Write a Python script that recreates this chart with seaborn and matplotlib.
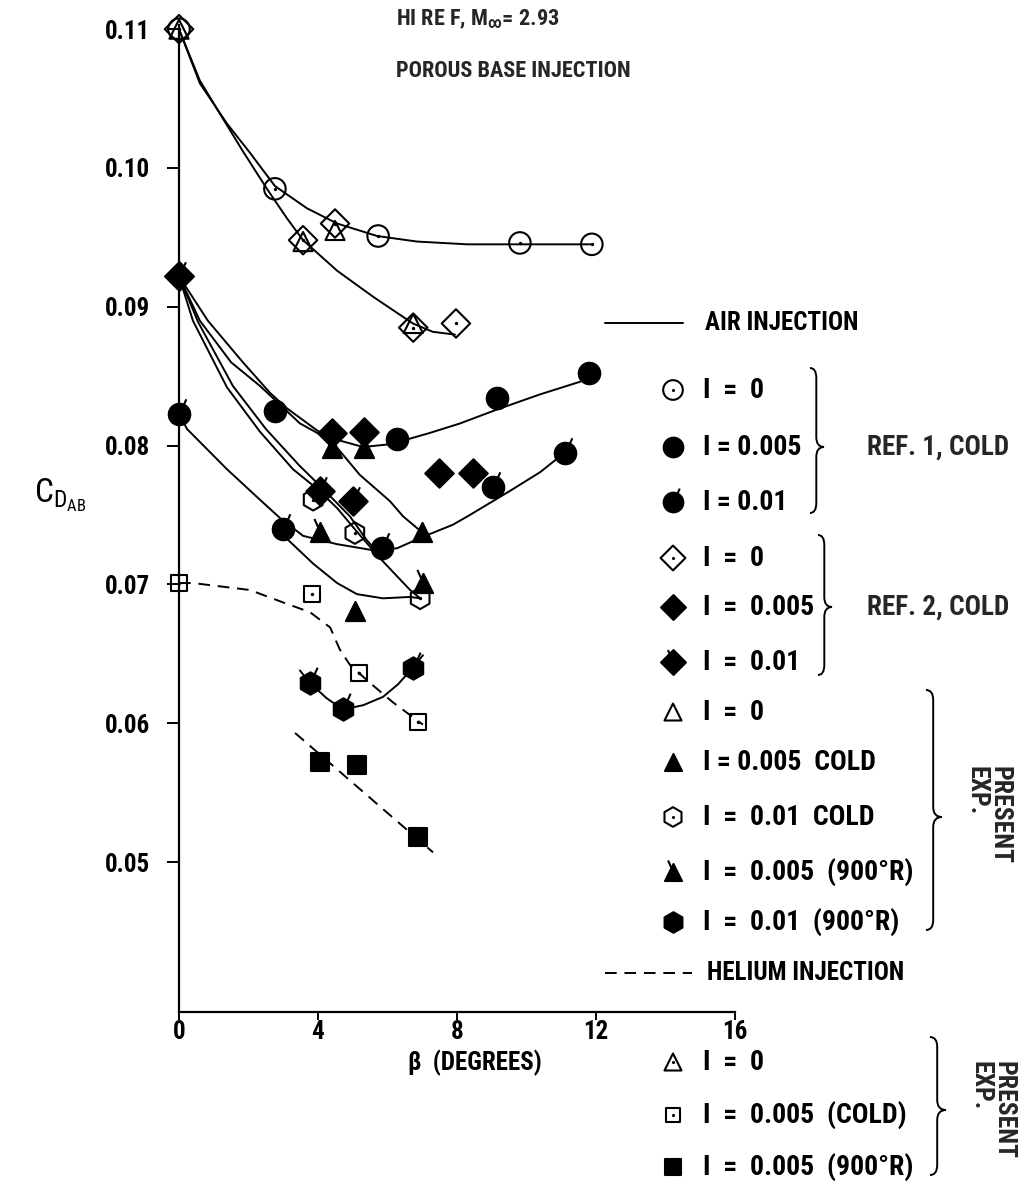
import matplotlib
matplotlib.use("Agg")
import matplotlib.pyplot as plt
import seaborn as sns
from matplotlib.path import Path
from matplotlib.patches import PathPatch

# Base drag coefficient vs boattail angle, HI RE F, M = 2.93, porous base injection
# values: beta in degrees, C_D_AB

# ---- measured points ----
ref1_i0_beta = [0.0, 2.76, 5.73, 9.81, 11.88]
ref1_i0_cd = [0.1100, 0.0985, 0.0951, 0.0946, 0.0945]
ref1_i005_beta = [2.76, 6.27, 9.15, 11.8]
ref1_i005_cd = [0.0825, 0.0805, 0.0834, 0.0852]
ref1_i01_beta = [0.0, 3.0, 5.84, 9.04, 11.1]
ref1_i01_cd = [0.0823, 0.0740, 0.0726, 0.0770, 0.0795]

ref2_i0_beta = [0.0, 3.57, 4.49, 6.74, 7.97]
ref2_i0_cd = [0.1100, 0.0948, 0.0960, 0.0885, 0.0888]
ref2_i005_beta = [0.0, 4.4, 5.32, 7.48, 8.46]
ref2_i005_cd = [0.0922, 0.0809, 0.0810, 0.0780, 0.0780]
ref2_i01_beta = [0.0, 4.06, 5.0]
ref2_i01_cd = [0.0922, 0.0767, 0.0760]

pres_i0_beta = [0.0, 3.57, 4.49, 6.74]
pres_i0_cd = [0.1100, 0.0947, 0.0955, 0.0888]
pres_i005c_beta = [4.4, 5.32, 6.99, 5.06]
pres_i005c_cd = [0.0798, 0.0798, 0.0738, 0.0681]
pres_i01c_beta = [3.86, 5.06, 6.94]
pres_i01c_cd = [0.0761, 0.0737, 0.0690]
pres_i005h_beta = [4.06, 7.02]
pres_i005h_cd = [0.0738, 0.0701]
pres_i01h_beta = [3.77, 4.72, 6.73]
pres_i01h_cd = [0.0629, 0.0610, 0.0640]

he_i005c_beta = [0.0, 3.83, 5.18, 6.88]
he_i005c_cd = [0.0701, 0.0693, 0.0636, 0.0601]
he_i005h_beta = [4.06, 5.12, 6.88]
he_i005h_cd = [0.0572, 0.0570, 0.0518]

# ---- faired curves (air = solid, helium = dashed) ----
air_curves = [
    ([0, 0.6, 1.38, 2.04, 2.76, 3.68, 4.55, 5.7, 6.85, 8.3, 9.8, 11.88],
     [0.1100, 0.1061, 0.1032, 0.1011, 0.0987, 0.0971, 0.0960, 0.0951, 0.0947, 0.0945, 0.0945, 0.0945]),
    ([0, 0.6, 1.18, 1.84, 2.53, 3.1, 3.57, 4.55, 5.6, 6.73, 7.3, 7.94],
     [0.1100, 0.1063, 0.1039, 0.1012, 0.0985, 0.0964, 0.0948, 0.0926, 0.0907, 0.0888, 0.0882, 0.0880]),
    ([0, 0.83, 1.84, 2.62, 3.1, 3.97, 4.43, 5.3, 6.07, 6.36, 7.2, 8.09, 9.15, 10.4, 11.54, 11.8],
     [0.0922, 0.0890, 0.0860, 0.0838, 0.0827, 0.0811, 0.0805, 0.0799, 0.0801, 0.0803, 0.0809, 0.0816, 0.0826, 0.0837, 0.0846, 0.0850]),
    ([0, 0.6, 1.5, 2.33, 3.48, 4.06, 4.4, 5.2, 6.07, 6.45, 6.88, 7.0],
     [0.0922, 0.0890, 0.0860, 0.0843, 0.0816, 0.0808, 0.0803, 0.0779, 0.0760, 0.0749, 0.0740, 0.0738]),
    ([0, 0.4, 1.38, 2.33, 3.28, 3.97, 4.55, 5.12, 5.78, 6.65, 6.94],
     [0.0922, 0.0890, 0.0842, 0.0810, 0.0783, 0.0769, 0.0755, 0.0738, 0.0719, 0.0696, 0.0690]),
    ([0, 0.55, 1.55, 2.5, 3.45, 4.1, 4.92, 5.4, 5.9],
     [0.0922, 0.0889, 0.0843, 0.0812, 0.0786, 0.0770, 0.0749, 0.0732, 0.0718]),
    ([0, 0.23, 1.38, 2.33, 2.9, 3.57, 4.55, 5.5, 6.27, 6.99, 7.88, 8.3, 9.5, 10.4, 11.1],
     [0.0823, 0.0812, 0.0783, 0.0761, 0.0748, 0.0735, 0.0729, 0.0725, 0.0726, 0.0734, 0.0743, 0.0749, 0.0767, 0.0781, 0.0795]),
    ([3.0, 3.1, 3.86, 4.55, 5.12, 5.87, 6.65, 6.94],
     [0.0740, 0.0733, 0.0715, 0.0701, 0.0693, 0.0690, 0.0691, 0.0690]),
    ([3.48, 3.77, 4.25, 4.72, 5.3, 5.87, 6.3, 6.73, 7.02],
     [0.0638, 0.0629, 0.0618, 0.0610, 0.0613, 0.0619, 0.0628, 0.0640, 0.0649]),
]
helium_curves = [
    ([0, 0.4, 2.04, 3.0, 3.77, 4.35, 4.63, 4.92, 5.5, 6.16, 7.02],
     [0.0701, 0.0701, 0.0696, 0.0687, 0.0680, 0.0669, 0.0653, 0.0642, 0.0629, 0.0615, 0.0599]),
    ([3.34, 7.31], [0.0593, 0.0507]),
]

x_ticks = [0, 4, 8, 12, 16]
y_ticks = [0.05, 0.06, 0.07, 0.08, 0.09, 0.10, 0.11]
y_tick_labels = ['0.05', '0.06', '0.07', '0.08', '0.09', '0.10', '0.11']

sns.set_theme(style="white")
FONTS = ['Roboto Condensed', 'Liberation Sans Narrow', 'DejaVu Sans Condensed', 'Roboto', 'Liberation Sans']
plt.rcParams['font.family'] = FONTS
plt.rcParams['font.stretch'] = 'condensed'
plt.rcParams['font.weight'] = 'bold'

W, H = 1021, 1183
fig = plt.figure(figsize=(W / 100, H / 100), dpi=100)
fig.patch.set_facecolor('white')
ax = fig.add_axes([179 / W, 1 - 1012 / H, 556 / W, (1012 - 25) / H])
ax.set_facecolor('white')

FLAG_R = Path([(0, 0), (0.45, 1.0)], [Path.MOVETO, Path.LINETO])
FLAG_L = Path([(0, 0), (-0.45, 1.0)], [Path.MOVETO, Path.LINETO])
LW = 1.5

# curves first
for bx, cy in air_curves:
    sns.lineplot(x=bx, y=cy, sort=False, estimator=None, color='black', lw=1.4, ax=ax)
for bx, cy in helium_curves:
    sns.lineplot(x=bx, y=cy, sort=False, estimator=None, color='black', lw=1.4,
                 linestyle=(0, (6, 4)), ax=ax)


def draw_points(bx, cy, marker, s, filled=True, dot=False, flag=None):
    sns.scatterplot(x=bx, y=cy, marker=marker, s=s, color='black', edgecolor='black',
                    linewidth=LW, clip_on=False, zorder=4, legend=False, ax=ax)
    if not filled:
        ax.collections[-1].set_facecolor('none')
    if dot:
        sns.scatterplot(x=bx, y=cy, marker='o', s=6, color='black', linewidth=0,
                        clip_on=False, zorder=5, legend=False, ax=ax)
    if flag is not None:
        sns.scatterplot(x=bx, y=cy, marker=flag, s=s * 2.0, color='black', edgecolor='black',
                        linewidth=LW, clip_on=False, zorder=5, legend=False, ax=ax)


draw_points(ref1_i0_beta, ref1_i0_cd, 'o', 240, filled=False, dot=True)
draw_points(ref1_i005_beta, ref1_i005_cd, 'o', 240)
draw_points(ref1_i01_beta, ref1_i01_cd, 'o', 240, flag=FLAG_R)
draw_points(ref2_i0_beta, ref2_i0_cd, 'D', 210, filled=False, dot=True)
draw_points(ref2_i005_beta, ref2_i005_cd, 'D', 210)
draw_points(ref2_i01_beta, ref2_i01_cd, 'D', 210, flag=FLAG_R)
draw_points(pres_i0_beta, pres_i0_cd, '^', 190, filled=False)
draw_points(pres_i005c_beta, pres_i005c_cd, '^', 190)
draw_points(pres_i01c_beta, pres_i01c_cd, 'h', 240, filled=False, dot=True)
draw_points(pres_i005h_beta, pres_i005h_cd, '^', 190, flag=FLAG_L)
draw_points(pres_i01h_beta, pres_i01h_cd, 'h', 260, flag=FLAG_R)
draw_points(he_i005c_beta, he_i005c_cd, 's', 130, filled=False, dot=True)
draw_points(he_i005h_beta, he_i005h_cd, 's', 150)

ax.set_xlim(0, 16)
ax.set_ylim(0.0392, 0.1103)
ax.set_xticks(x_ticks)
ax.set_xticklabels([str(t) for t in x_ticks])
ax.set_yticks(y_ticks)
ax.set_yticklabels(y_tick_labels)
for side in ['top', 'right']:
    ax.spines[side].set_visible(False)
for side in ['left', 'bottom']:
    ax.spines[side].set_color('black')
    ax.spines[side].set_linewidth(1.6)
ax.tick_params(axis='both', direction='out', width=1.4, color='black',
               labelcolor='black', bottom=True, left=True)
ax.tick_params(axis='y', length=9, pad=12, labelsize=18)
ax.tick_params(axis='x', length=6, pad=0, labelsize=18)
for lab in ax.get_xticklabels() + ax.get_yticklabels():
    lab.set_fontweight('bold')

ax.set_xlabel('β  (DEGREES)', fontsize=18, fontweight='bold', color='black')
ax.xaxis.set_label_coords((475 - 179) / 556, (1012 - 1063) / 987)
ax.set_ylabel(r'C$\mathregular{_{D_{AB}}}$', fontsize=24, rotation=0, color='black')
ax.yaxis.set_label_coords((60 - 179) / 556, (1012 - 514) / 987)
ax.xaxis.label.set_va('center')

# ---- annotation layer in pixel coordinates ----
lax = fig.add_axes([0, 0, 1, 1], zorder=5)
lax.set_xlim(0, W)
lax.set_ylim(H, 0)
lax.axis('off')
lax.patch.set_alpha(0)

TXT = dict(fontsize=20, fontweight='bold', color='black', va='center')
CAPS = dict(fontsize=18, fontweight='bold', color='black', va='center')
lax.text(396, 19, r'HI RE F, M$\mathregular{_{\infty}}$= 2.93', fontsize=16, fontweight='bold', va='center')
lax.text(396, 71, 'POROUS BASE INJECTION', fontsize=16, fontweight='bold', va='center')

lax.plot([605, 683], [323, 323], color='black', lw=1.4)
lax.text(705, 323, 'AIR INJECTION', **CAPS)
lax.plot([605, 692], [973, 973], color='black', lw=1.4, linestyle=(0, (6, 4)))
lax.text(707, 973, 'HELIUM INJECTION', **CAPS)

MX, TX = 673, 703
legend_rows = [
    (390, 'o', 200, False, True, None, 'I  =  0'),
    (447, 'o', 200, True, False, None, 'I = 0.005'),
    (502, 'o', 200, True, False, FLAG_R, 'I = 0.01'),
    (558, 'D', 160, False, True, None, 'I  =  0'),
    (607, 'D', 160, True, False, None, 'I  =  0.005'),
    (662, 'D', 160, True, False, FLAG_L, 'I  =  0.01'),
    (712, '^', 150, False, False, None, 'I  =  0'),
    (762, '^', 150, True, False, None, 'I = 0.005  COLD'),
    (817, 'h', 200, False, True, None, 'I  =  0.01  COLD'),
    (872, '^', 150, True, False, FLAG_L, 'I  =  0.005  (900°R)'),
    (922, 'h', 220, True, False, None, 'I  =  0.01  (900°R)'),
    (1062, '^', 150, False, True, None, 'I  =  0'),
    (1115, 's', 110, False, True, None, 'I  =  0.005  (COLD)'),
    (1167, 's', 130, True, False, None, 'I  =  0.005  (900°R)'),
]
for y, mk, s, filled, dot, flag, label in legend_rows:
    lax.scatter([MX], [y], marker=mk, s=s, facecolor='black' if filled else 'none',
                edgecolor='black', linewidth=LW, zorder=3)
    if dot:
        lax.scatter([MX], [y], marker='o', s=5, color='black', linewidth=0, zorder=4)
    if flag is not None:
        lax.scatter([MX], [y], marker=flag, s=s * 2.0, color='black', edgecolor='black',
                    linewidth=LW, zorder=4)
    lax.text(TX, y, label, **TXT)


def brace(x, y0, y1, ytip, w=14, r=10):
    xm = x + w * 0.45
    verts = [(x, y0), (xm, y0), (xm, y0 + r), (xm, ytip - r), (xm, ytip), (x + w, ytip),
             (xm, ytip), (xm, ytip + r), (xm, y1 - r), (xm, y1), (x, y1)]
    codes = [Path.MOVETO, Path.CURVE3, Path.CURVE3, Path.LINETO, Path.CURVE3, Path.CURVE3,
             Path.CURVE3, Path.CURVE3, Path.LINETO, Path.CURVE3, Path.CURVE3]
    lax.add_patch(PathPatch(Path(verts, codes), fill=False, edgecolor='black', lw=1.4))


brace(810, 368, 513, 447)
brace(818, 535, 675, 607)
brace(926, 690, 930, 817, w=16)
brace(930, 1037, 1175, 1110, w=16)

lax.text(867, 447, 'REF. 1, COLD', fontsize=19.5, fontweight='bold', va='center')
lax.text(867, 607, 'REF. 2, COLD', fontsize=19.5, fontweight='bold', va='center')
lax.text(988, 815, 'PRESENT\nEXP.', fontsize=18.5, fontweight='bold', rotation=270,
         ha='center', va='center', multialignment='left', linespacing=0.9)
lax.text(992, 1110, 'PRESENT\nEXP.', fontsize=18.5, fontweight='bold', rotation=270,
         ha='center', va='center', multialignment='left', linespacing=0.9)

fig.savefig('out.png', dpi=100, facecolor='white')
